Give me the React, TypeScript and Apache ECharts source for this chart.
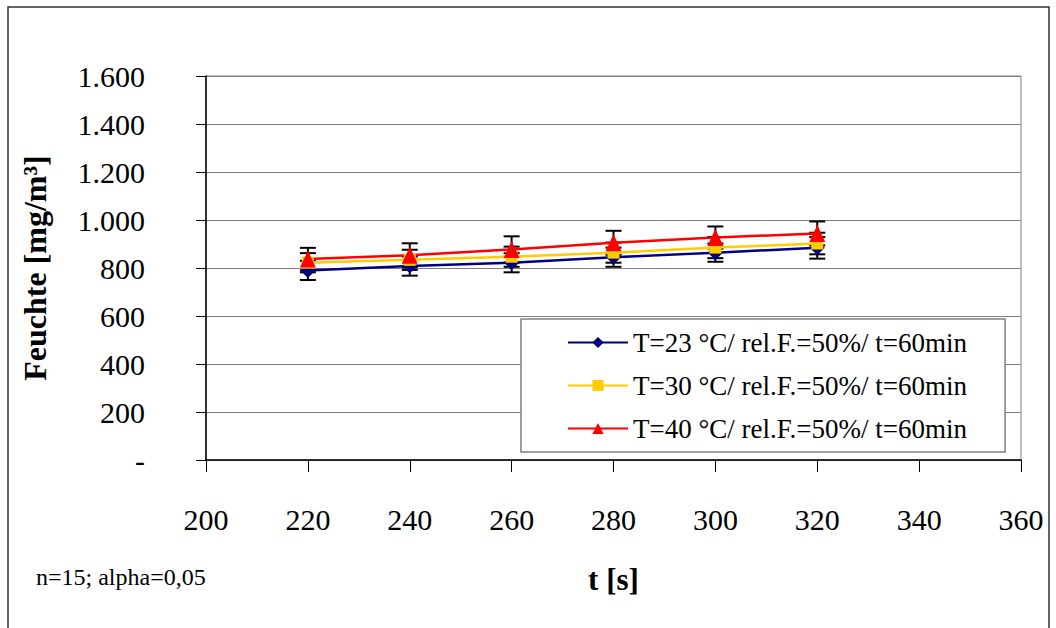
import React, { useEffect, useRef } from "react";
import * as echarts from "echarts";

const tValues = [220, 240, 260, 280, 300, 320];
const seriesNames = [
  "T=23 °C/ rel.F.=50%/ t=60min",
  "T=30 °C/ rel.F.=50%/ t=60min",
  "T=40 °C/ rel.F.=50%/ t=60min",
];
const blueValues = [790, 808, 822, 845, 864, 884];
const yellowValues = [822, 834, 847, 864, 885, 902];
const redValues = [837, 853, 877, 905, 927, 944];
const blueErrors = [40, 40, 40, 40, 38, 45];
const yellowErrors = [40, 42, 42, 42, 44, 45];
const redErrors = [47, 50, 55, 50, 46, 50];
const note = "n=15; alpha=0,05";

const FONT = "'Liberation Serif', 'Times New Roman', serif";

function fmt(v: number): string {
  if (v === 0) return "-";
  if (v >= 1000) {
    return `${Math.floor(v / 1000)}.${String(v % 1000).padStart(3, "0")}`;
  }
  return String(v);
}

export default function App() {
  const ref = useRef<HTMLDivElement>(null);
  useEffect(() => {
    if (!ref.current) return;
    const chart = echarts.init(ref.current, null, { renderer: "svg" });

    const values = [blueValues, yellowValues, redValues];
    const errors = [blueErrors, yellowErrors, redErrors];
    const colors = ["#000080", "#FFCC00", "#FF0000"];
    const symbols = ["diamond", "rect", "triangle"];
    const symbolSizes: any[] = [[15, 15], [12, 12], [16, 17]];

    const errorSeries = values.map((vals, si) => ({
      type: "custom",
      name: "err" + si,
      z: 1,
      silent: true,
      encode: { x: 0, y: [1, 2] },
      data: tValues.map((t, i) => [t, vals[i] - errors[si][i], vals[i] + errors[si][i]]),
      renderItem: (params: any, api: any) => {
        const x = api.value(0);
        const lo = api.coord([x, api.value(1)]);
        const hi = api.coord([x, api.value(2)]);
        const hw = 8;
        const st = { stroke: "#000", lineWidth: 2 };
        return {
          type: "group",
          children: [
            { type: "line", shape: { x1: lo[0], y1: lo[1], x2: hi[0], y2: hi[1] }, style: st },
            { type: "line", shape: { x1: lo[0] - hw, y1: lo[1], x2: lo[0] + hw, y2: lo[1] }, style: st },
            { type: "line", shape: { x1: hi[0] - hw, y1: hi[1], x2: hi[0] + hw, y2: hi[1] }, style: st },
          ],
        };
      },
    }));

    const lineSeries = values.map((vals, si) => ({
      type: "line",
      name: seriesNames[si],
      z: 3,
      data: tValues.map((t, i) => [t, vals[i]]),
      symbol: symbols[si],
      symbolSize: symbolSizes[si],
      showSymbol: true,
      lineStyle: { color: colors[si], width: 2.5 },
      itemStyle: { color: colors[si] },
    }));

    chart.setOption({
      animation: false,
      backgroundColor: "#fff",
      textStyle: { fontFamily: FONT },
      grid: {
        left: 206,
        right: 35,
        top: 76,
        bottom: 168,
        show: true,
        borderColor: "#808080",
        borderWidth: 1,
        backgroundColor: "transparent",
      },
      xAxis: {
        type: "value",
        min: 200,
        max: 360,
        interval: 20,
        name: "t [s]",
        nameLocation: "middle",
        nameGap: 104,
        nameTextStyle: { fontFamily: FONT, fontSize: 31, fontWeight: "bold", color: "#000" },
        axisLine: { show: true, onZero: false, lineStyle: { color: "#000", width: 1.5 } },
        axisTick: { show: true, inside: false, length: 12, lineStyle: { color: "#000", width: 1 } },
        axisLabel: { fontFamily: FONT, fontSize: 30, color: "#000", margin: 44 },
        splitLine: { show: false },
      },
      yAxis: {
        type: "value",
        min: 0,
        max: 1600,
        interval: 200,
        name: "Feuchte [mg/m³]",
        nameLocation: "middle",
        nameGap: 155,
        nameRotate: 90,
        nameTextStyle: { fontFamily: FONT, fontSize: 32, fontWeight: "bold", color: "#000" },
        axisLine: { show: true, lineStyle: { color: "#000", width: 1.5 } },
        axisTick: { show: true, inside: false, length: 10, lineStyle: { color: "#000", width: 1 } },
        axisLabel: { fontFamily: FONT, fontSize: 30, color: "#000", margin: 61, formatter: (v: number) => fmt(v) },
        splitLine: { show: true, lineStyle: { color: "#808080", width: 1 } },
      },
      legend: {
        show: true,
        data: seriesNames,
        orient: "vertical",
        left: 521,
        top: 319,
        padding: [10, 38, 10, 46],
        itemGap: 16,
        itemWidth: 60,
        itemHeight: 14,
        backgroundColor: "#fff",
        borderColor: "#808080",
        borderWidth: 1.5,
        textStyle: { fontFamily: FONT, fontSize: 27, color: "#000" },
      },
      graphic: [
        {
          type: "rect",
          shape: { x: 8, y: 7, width: 1041, height: 640 },
          style: { fill: "none", stroke: "#333", lineWidth: 1.5 },
          silent: true,
          z: 100,
        },
        {
          type: "text",
          left: 36,
          top: 565,
          style: { text: note, fontFamily: FONT, fontSize: 24, fill: "#000" },
        },
      ],
      series: [...errorSeries, ...lineSeries],
    });

    return () => chart.dispose();
  }, []);

  return (
    <div
      ref={ref}
      style={{ position: "absolute", left: 0, top: 0, width: 1056, height: 628, background: "#fff" }}
    />
  );
}
